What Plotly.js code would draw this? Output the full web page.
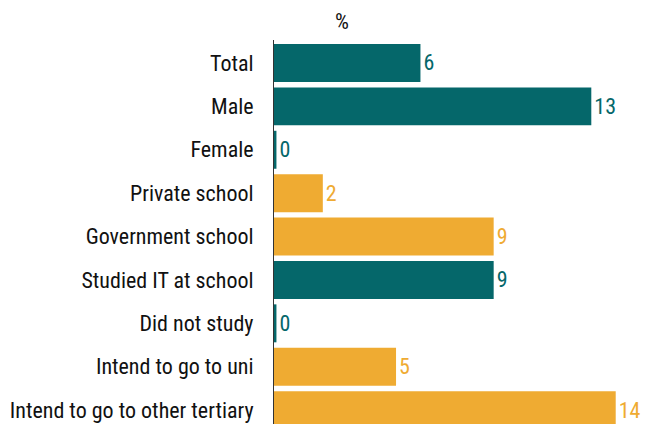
<!DOCTYPE html>
<html>
<head>
<meta charset="utf-8">
<script src="https://cdn.plot.ly/plotly-3.0.1.min.js"></script>
<style>html,body{margin:0;padding:0;background:#fff;}#chart{width:645px;height:424px;}</style>
</head>
<body>
<div id="chart"></div>
<script>
const categories = ["Total", "Male", "Female", "Private school", "Government school", "Studied IT at school", "Did not study", "Intend to go to uni", "Intend to go to other tertiary"];
const values = [6, 13, 0.1, 2, 9, 9, 0.1, 5, 14];
const groups = ["all", "gender", "gender", "school", "school", "it", "it", "intent", "intent"];

const TEAL = "#05676A";
const ORANGE = "#EFAB32";
const groupColor = {all: TEAL, gender: TEAL, school: ORANGE, it: TEAL, intent: ORANGE};
const colors = groups.map(g => groupColor[g]);
const FONT = "'Roboto Condensed', 'Liberation Sans Narrow', 'Arial Narrow', sans-serif";

const trace = {
  type: "bar",
  orientation: "h",
  y: categories.map(c => c + " "),
  x: values,
  marker: {color: colors},
  text: values,
  texttemplate: "%{x:.0f}",
  textposition: "outside",
  cliponaxis: false,
  outsidetextfont: {family: FONT, size: 22, color: colors, weight: 400},
  hoverinfo: "skip"
};

const layout = {
  width: 645, height: 424,
  margin: {l: 274, r: 0, t: 40, b: 0},
  paper_bgcolor: "#fff", plot_bgcolor: "#fff",
  showlegend: false,
  bargap: 0.125,
  font: {family: FONT, size: 22, color: "#111", weight: 400},
  xaxis: {range: [0, 15.2], showgrid: false, zeroline: false, showticklabels: false, ticks: "", showline: false, fixedrange: true},
  yaxis: {
    range: [8.32, -0.53],
    showgrid: false, zeroline: false,
    showline: true, linecolor: "#333", linewidth: 1,
    ticks: "", ticklabelstandoff: 10,
    tickfont: {family: FONT, size: 22, color: "#111", weight: 400},
    automargin: false
  },
  annotations: [{
    text: "%", xref: "paper", yref: "paper", x: 0.16, y: 1, yanchor: "bottom", yshift: 4,
    showarrow: false, font: {family: FONT, size: 22, color: "#111", weight: 400}
  }]
};

Plotly.newPlot("chart", [trace], layout, {displayModeBar: false, staticPlot: true});
</script>
</body>
</html>
